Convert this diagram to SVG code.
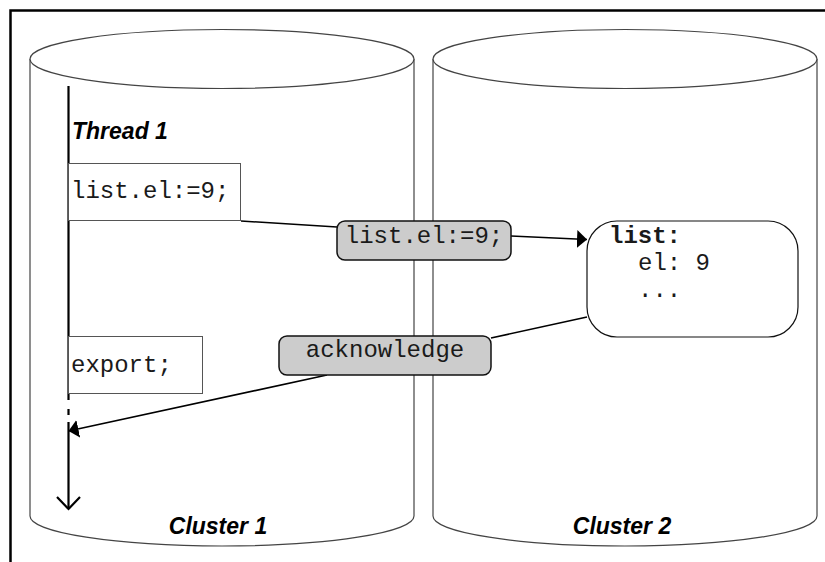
<svg xmlns="http://www.w3.org/2000/svg" width="825" height="562" viewBox="0 0 825 562">
  <style>
    .cyl { fill: #ffffff; stroke: #444444; stroke-width: 1.2; }
    .box { fill: #ffffff; stroke: #555555; stroke-width: 1; }
    .msg { fill: #cccccc; stroke: #111111; stroke-width: 1.5; }
    .mono { font-family: "Liberation Mono", "Courier New", monospace; font-size: 24px; fill: #1a1a1a; }
    .title { font-family: "Liberation Sans", Arial, sans-serif; font-size: 23px; font-weight: bold; font-style: italic; fill: #000000; }
    .edge { fill: none; stroke: #000000; stroke-width: 1.6; }
    .thread { fill: none; stroke: #000000; stroke-width: 2.2; }
  </style>
  <defs>
    <marker id="arrow" viewBox="0 0 10 18" refX="10" refY="9" markerWidth="10" markerHeight="18" markerUnits="userSpaceOnUse" orient="auto">
      <path d="M0,0 L10,9 L0,18 Z" fill="#000000"/>
    </marker>
  </defs>

  <rect width="825" height="562" fill="#ffffff"/>
  <!-- frame -->
  <rect x="10.5" y="10.5" width="840" height="580" fill="none" stroke="#000000" stroke-width="2.5"/>

  <!-- cluster cylinders -->
  <g id="cluster1">
    <path class="cyl" d="M30,59 L30,516 A192,30 0 0 0 414,516 L414,59"/>
    <ellipse class="cyl" cx="222" cy="59" rx="192" ry="29.5"/>
    <text class="title" x="218" y="534" text-anchor="middle">Cluster 1</text>
  </g>
  <g id="cluster2">
    <path class="cyl" d="M433,59 L433,516 A192,30 0 0 0 817,516 L817,59"/>
    <ellipse class="cyl" cx="625" cy="59" rx="192" ry="29.5"/>
    <text class="title" x="622" y="534" text-anchor="middle">Cluster 2</text>
  </g>

  <!-- thread timeline -->
  <g id="thread1">
    <path class="thread" d="M68.5,86 L68.5,400 M68.5,409 L68.5,415 M68.5,422 L68.5,509"/>
    <path class="thread" d="M57,497 L68.5,509 L80,497"/>
    <text class="title" x="72" y="139">Thread 1</text>
  </g>

  <g id="stmt-assign">
    <rect class="box" x="68.5" y="163.5" width="172" height="57"/>
    <text class="mono" x="71" y="198">list.el:=9;</text>
  </g>

  <g id="stmt-export">
    <rect class="box" x="68.5" y="336.5" width="134" height="57"/>
    <text class="mono" x="71" y="372">export;</text>
  </g>

  <g id="list-object">
    <rect x="587" y="221" width="211" height="116" rx="30" ry="30" fill="#ffffff" stroke="#111111" stroke-width="1.2"/>
    <text class="mono" x="609" y="243" font-weight="bold">list:</text>
    <text class="mono" x="638" y="270">el: 9</text>
    <text class="mono" x="638" y="297">...</text>
  </g>

  <!-- connectors -->
  <g id="connectors">
    <path class="edge" d="M241,221 L337,227"/>
    <path class="edge" d="M511,236 L587,239.5" marker-end="url(#arrow)"/>
    <path class="edge" d="M587,317 L491,338"/>
    <path class="edge" d="M327,375 L68.5,431" marker-end="url(#arrow)"/>
  </g>

  <g id="msg-assign">
    <rect class="msg" x="337" y="221" width="174" height="39" rx="8" ry="8"/>
    <text class="mono" x="424" y="243" text-anchor="middle">list.el:=9;</text>
  </g>

  <g id="msg-ack">
    <rect class="msg" x="279" y="336" width="212" height="39" rx="8" ry="8"/>
    <text class="mono" x="385" y="357" text-anchor="middle">acknowledge</text>
  </g>
</svg>
